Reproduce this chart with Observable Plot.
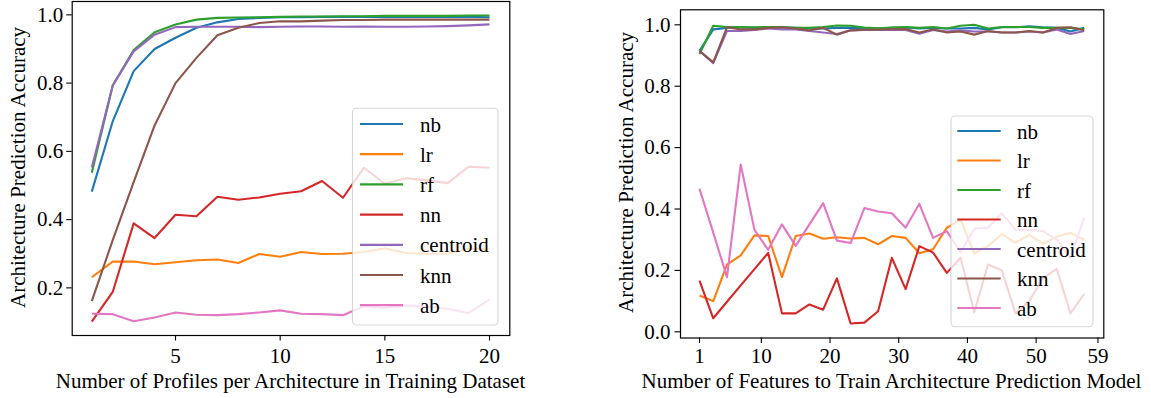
<!DOCTYPE html>
<html><head><meta charset="utf-8">
<script src="https://cdn.jsdelivr.net/npm/d3@7"></script>
<script src="https://cdn.jsdelivr.net/npm/@observablehq/plot@0.6"></script>
<style>
html,body{margin:0;padding:0;background:#fff;}
#wrap{position:relative;width:1151px;height:398px;overflow:hidden;}
#wrap svg{position:absolute;top:0;}
#wrap svg text{font-family:'Liberation Serif','Times New Roman','DejaVu Serif',serif !important;font-size:21px;}
</style></head><body><div id="wrap"></div>
<script>
const seriesNames = ["nb","lr","rf","nn","centroid","knn","ab"];
const colors = ["#1f77b4","#ff7f0e","#2ca02c","#d62728","#9467bd","#8c564b","#e377c2"];

// Left panel: number of profiles per architecture
const profiles = [1,2,3,4,5,6,7,8,9,10,11,12,13,14,15,16,17,18,19,20];
const nbL = [0.482,0.688,0.835,0.900,0.933,0.962,0.978,0.988,0.991,0.993,0.993,0.994,0.994,0.994,0.994,0.994,0.994,0.994,0.994,0.993];
const lrL = [0.231,0.277,0.277,0.269,0.275,0.281,0.283,0.273,0.299,0.291,0.305,0.299,0.300,0.305,0.316,0.302,0.300,0.300,0.315,0.313];
const rfL = [0.537,0.793,0.897,0.949,0.972,0.986,0.991,0.992,0.993,0.994,0.995,0.995,0.996,0.996,0.997,0.997,0.997,0.997,0.998,0.998];
const nnL = [0.101,0.188,0.389,0.346,0.414,0.410,0.467,0.458,0.465,0.476,0.483,0.513,0.464,0.552,0.505,0.521,0.515,0.507,0.555,0.552];
const centroidL = [0.553,0.793,0.893,0.942,0.964,0.965,0.965,0.965,0.964,0.965,0.966,0.966,0.965,0.966,0.965,0.965,0.966,0.967,0.969,0.972];
const knnL = [0.161,0.340,0.510,0.676,0.800,0.874,0.940,0.962,0.976,0.981,0.981,0.983,0.985,0.985,0.986,0.986,0.986,0.986,0.986,0.986];
const abL = [0.124,0.123,0.102,0.113,0.128,0.121,0.120,0.123,0.128,0.134,0.124,0.123,0.120,0.146,0.141,0.148,0.145,0.139,0.126,0.166];

// Right panel: number of features
const features = [1,3,5,7,9,11,13,15,17,19,21,23,25,27,29,31,33,35,37,39,41,43,45,47,49,51,53,55,57];
const nbR = [0.915,0.985,0.990,0.992,0.990,0.992,0.991,0.990,0.989,0.988,0.990,0.990,0.989,0.988,0.990,0.991,0.988,0.990,0.988,0.988,0.990,0.985,0.992,0.992,0.995,0.992,0.990,0.978,0.990];
const lrR = [0.118,0.100,0.219,0.249,0.314,0.312,0.178,0.312,0.320,0.303,0.308,0.304,0.306,0.285,0.312,0.306,0.256,0.269,0.339,0.365,0.255,0.280,0.318,0.290,0.316,0.287,0.310,0.322,0.300];
const rfR = [0.905,0.997,0.993,0.993,0.992,0.993,0.993,0.990,0.990,0.993,0.998,0.997,0.991,0.989,0.991,0.993,0.990,0.993,0.988,0.997,1.000,0.988,0.993,0.993,0.993,0.990,0.990,0.990,0.985];
const nnR = [0.167,0.044,0.098,0.151,0.204,0.257,0.060,0.060,0.089,0.072,0.174,0.027,0.030,0.067,0.241,0.139,0.279,0.258,0.192,0.241,0.064,0.219,0.200,0.060,0.100,0.175,0.205,0.060,0.124];
const centroidR = [0.915,0.875,0.980,0.980,0.983,0.988,0.985,0.985,0.980,0.975,0.970,0.982,0.983,0.983,0.983,0.983,0.971,0.983,0.978,0.982,0.978,0.978,0.975,0.975,0.978,0.975,0.985,0.970,0.980];
const knnR = [0.915,0.878,0.992,0.985,0.985,0.990,0.992,0.988,0.982,0.990,0.968,0.982,0.984,0.984,0.986,0.986,0.975,0.985,0.975,0.978,0.968,0.980,0.975,0.975,0.980,0.975,0.990,0.992,0.982];
const abR = [0.466,0.323,0.178,0.545,0.332,0.267,0.350,0.280,0.350,0.419,0.297,0.289,0.403,0.392,0.386,0.339,0.417,0.306,0.328,0.259,0.336,0.339,0.386,0.332,0.332,0.328,0.300,0.240,0.373];

const xTicksL = [5,10,15,20];
const yTicksL = [0.2,0.4,0.6,0.8,1.0];
const xTicksR = [1,10,20,30,40,50,59];
const yTicksR = [0.0,0.2,0.4,0.6,0.8,1.0];

const xLabelL = "Number of Profiles per Architecture in Training Dataset";
const xLabelR = "Number of Features to Train Architecture Prediction Model";
const yLabel = "Architecture Prediction Accuracy";

const FONT = "'Liberation Serif','Times New Roman','DejaVu Serif',serif";

function panel(o){
  const marks = o.series.map((vals,k)=>Plot.line(vals,{x:(d,i)=>o.xs[i], y:d=>d, stroke:colors[k], strokeWidth:2.1, strokeLinejoin:"round", strokeLinecap:"butt"}));
  marks.push(Plot.frame({stroke:"black", strokeWidth:1.2}));
  marks.push(Plot.axisX({ticks:o.xTicks, tickSize:5.5, tickPadding:o.padX, strokeWidth:1.1, label:null, fontFamily:FONT, tickFormat:d=>String(d)}));
  marks.push(Plot.axisY({ticks:o.yTicks, tickSize:5.5, tickPadding:o.padY, strokeWidth:1.1, label:null, fontFamily:FONT, tickFormat:d3.format(".1f")}));
  const svg = Plot.plot({
    width:o.width, height:398,
    marginLeft:o.ml, marginRight:o.mr, marginTop:o.mt, marginBottom:o.mb,
    x:{domain:o.xDomain}, y:{domain:o.yDomain},
    style:{fontFamily:FONT, fontSize:"21px", color:"black", background:"transparent", overflow:"visible"},
    marks
  });
  svg.style.left = o.left + "px";
  return svg;
}

const wrap = document.getElementById("wrap");
wrap.appendChild(panel({
  xs:profiles, series:[nbL,lrL,rfL,nnL,centroidL,knnL,abL],
  xTicks:xTicksL, yTicks:yTicksL, width:560, left:0,
  ml:71.7, mr:50.7, mt:1, mb:63, padX:7, padY:3.5,
  xDomain:[0.0636,20.97], yDomain:[0.0604,1.0391]
}));
wrap.appendChild(panel({
  xs:features, series:[nbR,lrR,rfR,nnR,centroidR,knnR,abR],
  xTicks:xTicksR, yTicks:yTicksR, width:571, left:580,
  ml:100, mr:47.7, mt:9.3, mb:60.5, padX:4.5, padY:4.5,
  xDomain:[-1.766,59.85], yDomain:[-0.0202,1.0489]
}));

// overlay: axis titles + legends
const ov = d3.select(wrap).append("svg").attr("width",1151).attr("height",398)
  .style("left","0px").attr("font-family",FONT).attr("font-size",21);
ov.append("text").attr("x",290.5).attr("y",387.5).attr("text-anchor","middle").text(xLabelL);
ov.append("text").attr("x",891.5).attr("y",387.5).attr("text-anchor","middle").text(xLabelR);
ov.append("text").attr("transform","translate(25,167.5) rotate(-90)").attr("text-anchor","middle").text(yLabel);
ov.append("text").attr("transform","translate(633.3,172.5) rotate(-90)").attr("text-anchor","middle").text(yLabel);

function legend(bx,by,bw,bh,lineX0,lineX1,textX,row0,step){
  const g = ov.append("g");
  g.append("rect").attr("x",bx).attr("y",by).attr("width",bw).attr("height",bh).attr("rx",4)
    .attr("fill","white").attr("fill-opacity",0.8).attr("stroke","#cccccc").attr("stroke-opacity",0.8).attr("stroke-width",1.1);
  seriesNames.forEach((n,i)=>{
    const y = row0 + i*step;
    g.append("line").attr("x1",lineX0).attr("x2",lineX1).attr("y1",y).attr("y2",y).attr("stroke",colors[i]).attr("stroke-width",2.2);
    g.append("text").attr("x",textX).attr("y",y+7.5).text(n);
  });
}
legend(352.5,108.3,145.5,216.7,360,403,420,124,30.2);
legend(951,116,142,210.7,957.3,1000.7,1017,131,29.5);
</script></body></html>
